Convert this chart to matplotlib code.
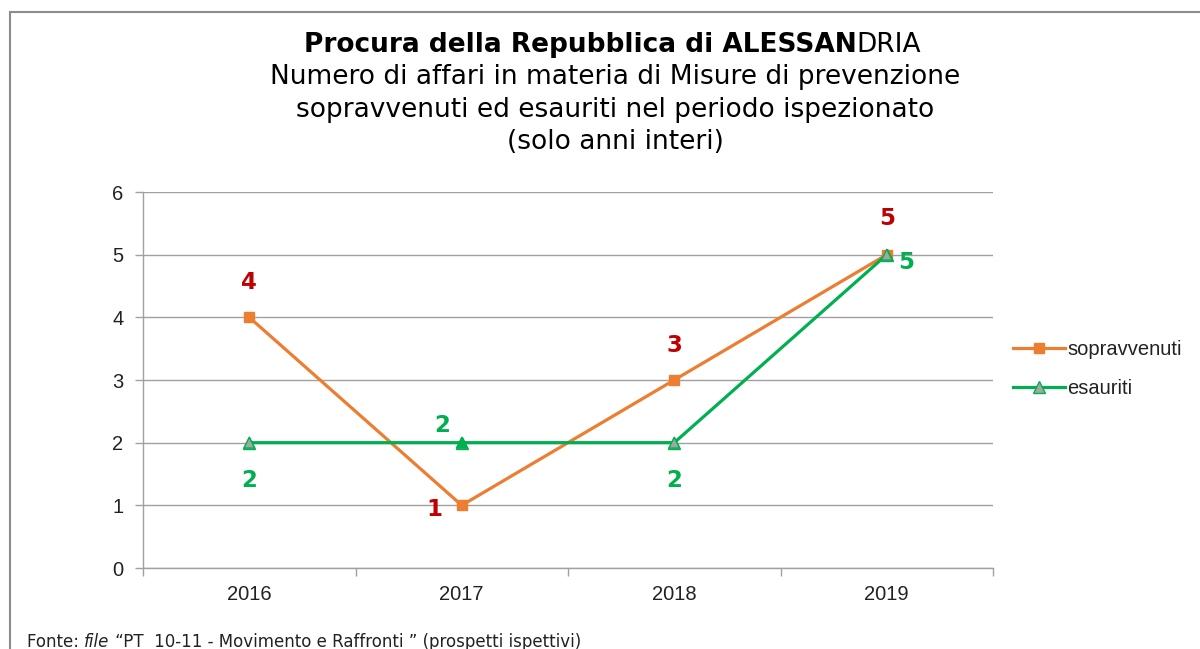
import matplotlib
matplotlib.use("Agg")
import matplotlib.pyplot as plt
from matplotlib.patches import Rectangle

# -- Data
anni = ['2016', '2017', '2018', '2019']
sopravvenuti = [4, 1, 3, 5]
esauriti = [2, 2, 2, 5]
esauriti_fill = ['#A5A5A5', '#00B050', '#A5A5A5', '#A5A5A5']

ORANGE = '#ED7D31'
GREEN = '#00B050'
RED = '#C00000'
GRID = '#A0A0A0'

W, H = 1200, 649
fig = plt.figure(figsize=(W / 100, H / 100), dpi=100)
fig.patch.set_facecolor('white')

# -- Chart frame (left and top edges visible)
fig.add_artist(Rectangle((10 / W, -0.05), 1.1, 1 - 12 / H + 0.05, transform=fig.transFigure,
                         fill=False, edgecolor='#8C8C8C', linewidth=1.5))

# -- Plot area: x 143..993, y 192..568 px
ax = fig.add_axes([143 / W, 1 - 568 / H, (993 - 143) / W, (568 - 192) / H])
x = list(range(len(anni)))

ax.plot(x, sopravvenuti, color=ORANGE, linewidth=2.3, marker='s', markersize=7.5,
        markerfacecolor=ORANGE, markeredgecolor=ORANGE, label='sopravvenuti', zorder=3)
ax.plot(x, esauriti, color=GREEN, linewidth=2.3, marker='^', markersize=8,
        markerfacecolor='#A5A5A5', markeredgecolor=GREEN, label='esauriti', zorder=4)
ax.scatter(x, esauriti, marker='^', s=60, c=esauriti_fill, edgecolors=GREEN,
           linewidths=1, zorder=5)

ax.set_xlim(-0.5, len(anni) - 0.5)
ax.set_ylim(0, 6)
ax.set_yticks(range(0, 7))
ax.set_xticks(x)
ax.set_xticklabels(anni)
ax.set_xticks([i - 0.5 for i in range(len(anni) + 1)], minor=True)
ax.tick_params(axis='x', which='major', length=0, pad=12, labelsize=14.5, labelcolor='#222222')
ax.tick_params(axis='x', which='minor', length=6, color=GRID, width=1, direction='out')
ax.tick_params(axis='y', length=6, color=GRID, width=1, pad=8, labelsize=14.5, labelcolor='#222222')
for lab in ax.get_xticklabels() + ax.get_yticklabels():
    lab.set_fontfamily('Liberation Sans')

ax.grid(axis='y', color=GRID, linewidth=1)
ax.set_axisbelow(True)
for s in ['top', 'right']:
    ax.spines[s].set_visible(False)
for s in ['left', 'bottom']:
    ax.spines[s].set_color(GRID)
    ax.spines[s].set_linewidth(1)

# -- Data labels
lab_kw = dict(fontsize=16.5, fontweight='bold', fontfamily='DejaVu Sans', ha='center', va='center')
sop_off = [(0, 0.56), (-0.13, -0.07), (0, 0.55), (0, 0.58)]
esa_off = [(0, -0.6), (-0.09, 0.28), (0, -0.6), (0.09, -0.12)]
for i, v in enumerate(sopravvenuti):
    ax.text(x[i] + sop_off[i][0], v + sop_off[i][1], str(v), color=RED, **lab_kw)
for i, v in enumerate(esauriti):
    ax.text(x[i] + esa_off[i][0], v + esa_off[i][1], str(v), color=GREEN, **lab_kw)

# -- Legend
fig.legend(loc='center left', bbox_to_anchor=(995 / W, 1 - 369 / H), frameon=False,
           prop={'family': 'Liberation Sans', 'size': 14.5}, handlelength=2.6,
           handletextpad=0.1, labelspacing=1.0, labelcolor='#222222')

# -- Title (mixed bold / regular on first line, centred as a whole)
fig.canvas.draw()
r = fig.canvas.get_renderer()
TS = 19
t1 = fig.text(0, 1 - 45 / H, 'Procura della Repubblica di ALESSAN', ha='left', va='center',
              fontsize=TS, fontweight='bold', fontfamily='DejaVu Sans')
t2 = fig.text(0, 1 - 45 / H, 'DRIA', ha='left', va='center', fontsize=TS, fontfamily='DejaVu Sans')
w1 = t1.get_window_extent(renderer=r).width
w2 = t2.get_window_extent(renderer=r).width
x0 = 612.5 - (w1 + w2) / 2
t1.set_x(x0 / W)
t2.set_x((x0 + w1) / W)
for yy, line in [(77, 'Numero di affari in materia di Misure di prevenzione'),
                 (110, 'sopravvenuti ed esauriti nel periodo ispezionato'),
                 (142, '(solo anni interi)')]:
    fig.text(615 / W, 1 - yy / H, line, ha='center', va='center', fontsize=TS,
             fontfamily='DejaVu Sans')

# -- Source note (italic "file")
xpos = 27
yb = 2 / H
for txt, style in [('Fonte: ', 'normal'), ('file', 'italic'),
                   (' \u201cPT  10-11 - Movimento e Raffronti \u201d (prospetti ispettivi)', 'normal')]:
    t = fig.text(xpos / W, yb, txt, ha='left', va='baseline', fontsize=12,
                 fontstyle=style, fontfamily='DejaVu Sans', color='#222222')
    xpos += t.get_window_extent(renderer=r).width

fig.savefig('out.png', dpi=100)
